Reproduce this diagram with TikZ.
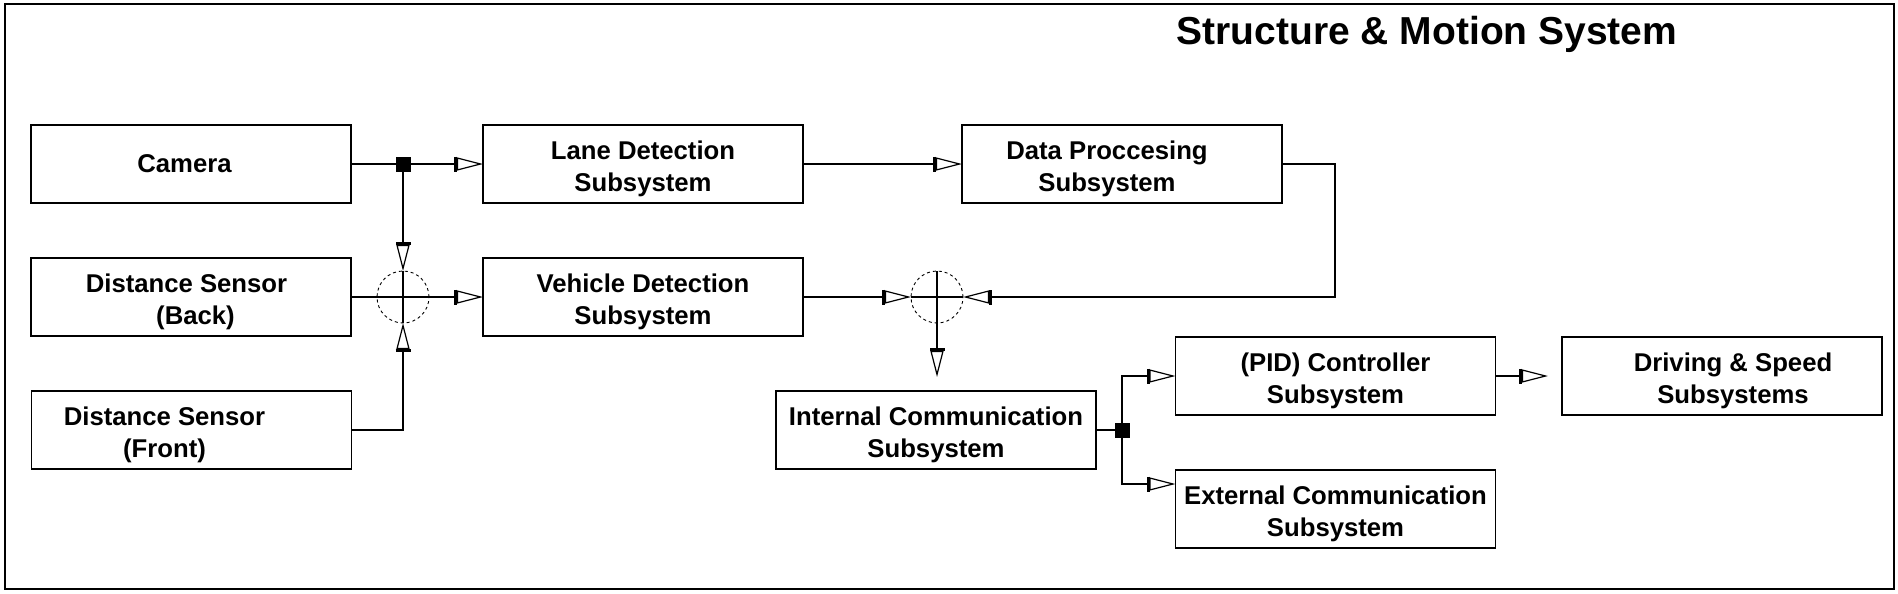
\documentclass[tikz,border=0pt]{standalone}
\usepackage{fontspec}
\setmainfont{Liberation Sans}
\usetikzlibrary{arrows.meta,calc}
\begin{document}
\begin{tikzpicture}[x=1pt,y=-1pt,
 box/.style={draw,line width=1.2pt,minimum width=320pt,minimum height=78pt,inner sep=0pt,outer sep=0pt,align=center,font=\bfseries\fontsize{25.7}{32}\selectfont,text depth=0pt},
 twoline/.style={box,text height=55.5pt},
 flow/.style={line width=1.2pt,-{Bar[width=15pt,line width=3pt,sep=0pt]Triangle[open,length=26pt,width=13pt,line width=1.2pt,sep=0pt]}},
 link/.style={line width=1.2pt},
 junc/.style={draw,circle,dash pattern=on 3pt off 3pt,line width=0.9pt,minimum size=52pt,inner sep=0pt,outer sep=0pt},
 dot/.style={fill=black,minimum size=15pt,inner sep=0pt,outer sep=0pt}]
\useasboundingbox (0,0) rectangle (1898,594);
\draw[line width=1.5pt] (5,4) rectangle (1894,589);
\node[font=\bfseries\fontsize{39}{44}\selectfont,anchor=base] (title) at (1427,45) {Structure \& Motion System};
% boxes
\node[box] (cam) at (191,164) {Camera\hspace*{13pt}};
\node[twoline] (back) at (191,297) {Distance Sensor\hspace*{9pt}\\\hspace*{9pt}(Back)};
\node[twoline] (front) at (191.5,430) {Distance Sensor\hspace*{54pt}\\(Front)\hspace*{54pt}};
\node[twoline] (lane) at (643,164) {Lane Detection\\Subsystem};
\node[twoline] (veh) at (643,297) {Vehicle Detection\\Subsystem};
\node[twoline] (data) at (1122,164) {Data Proccesing\hspace*{30pt}\\Subsystem\hspace*{30pt}};
\node[twoline] (int) at (936,430) {Internal Communication\\Subsystem};
\node[twoline] (pid) at (1335.5,376) {(PID) Controller\\Subsystem};
\node[twoline] (ext) at (1335.5,509) {External Communication\\Subsystem};
\node[twoline] (drv) at (1722,376) {\hspace*{22pt}Driving \& Speed\\\hspace*{22pt}Subsystems};
% junctions
\node[junc] (c1) at (403,297) {};
\node[junc] (c2) at (937,297) {};
\coordinate (j1) at (403,164);
\coordinate (j2) at (1122,430);
\coordinate (t2) at (937,377);
\coordinate (t3) at ($(drv.west)+(-14,0)$);
\coordinate (e1) at ($(ext.north west)+(0,14)$);
% connectors
\draw[flow] (cam.east) -- (lane.west);
\draw[flow] (j1) -- (c1.north);
\draw[link] (c1.north) -- (c1.south);
\draw[flow] (back.east) -- (veh.west);
\draw[flow] (front.east) -| (c1.south);
\draw[flow] (lane.east) -- (data.west);
\draw[flow] (veh.east) -- (c2.west);
\draw[link] (c2.west) -- (c2.east);
\draw[flow] (data.east) -- ++(53,0) |- (c2.east);
\draw[flow] (c2.north) -- (t2);
\draw[link] (int.east) -- (j2);
\draw[flow] (j2) |- (pid.west);
\draw[flow] (j2) |- (e1);
\draw[flow] (pid.east) -- (t3);
\node[dot] (d1) at (j1) {};
\node[dot] (d2) at (j2) {};
\end{tikzpicture}
\end{document}
